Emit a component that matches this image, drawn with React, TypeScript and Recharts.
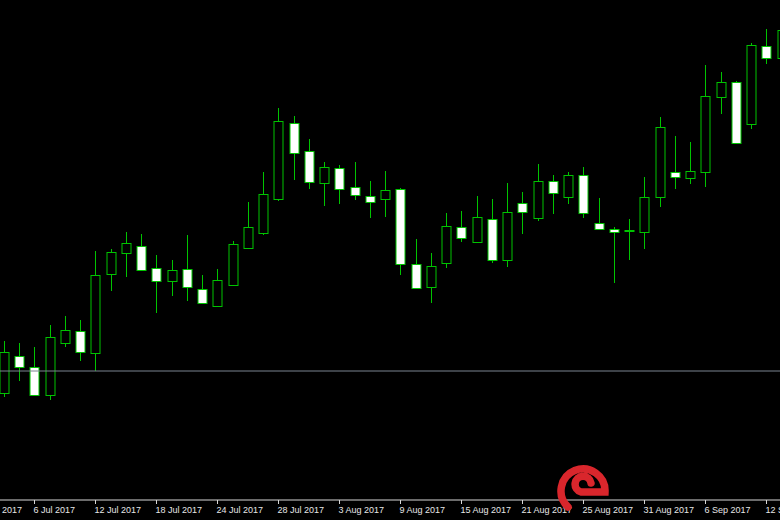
import { Bar, ComposedChart, ReferenceLine, XAxis, YAxis } from "recharts";

// daily bars, 4 Jul 2017 .. 13 Sep 2017
const barDates = [
  "4 Jul", "5 Jul", "6 Jul", "7 Jul", "10 Jul", "11 Jul", "12 Jul", "13 Jul", "14 Jul",
  "17 Jul", "18 Jul", "19 Jul", "20 Jul", "21 Jul", "24 Jul", "25 Jul", "26 Jul", "27 Jul",
  "28 Jul", "31 Jul", "1 Aug", "2 Aug", "3 Aug", "4 Aug", "7 Aug", "8 Aug", "9 Aug",
  "10 Aug", "11 Aug", "14 Aug", "15 Aug", "16 Aug", "17 Aug", "18 Aug", "21 Aug", "22 Aug",
  "23 Aug", "24 Aug", "25 Aug", "28 Aug", "29 Aug", "30 Aug", "31 Aug", "1 Sep", "4 Sep",
  "5 Sep", "6 Sep", "7 Sep", "8 Sep", "11 Sep", "12 Sep", "13 Sep",
];

const opens = [
  1.1314, 1.1388, 1.1366, 1.131, 1.1414, 1.1438, 1.1394, 1.1552, 1.1594, 1.1608, 1.1564,
  1.1538, 1.1562, 1.1522, 1.1488, 1.153, 1.1604, 1.1634, 1.1702, 1.1854, 1.1798, 1.1734,
  1.1764, 1.1726, 1.1708, 1.1702, 1.1722, 1.1572, 1.1526, 1.1574, 1.1646, 1.1616, 1.1662,
  1.158, 1.1694, 1.1664, 1.1738, 1.1706, 1.175, 1.1654, 1.1642, 1.1638, 1.1636, 1.1706,
  1.1756, 1.1744, 1.1756, 1.1906, 1.1936, 1.1852, 1.2008, 1.1984,
];
const highs = [
  1.1418, 1.1414, 1.1406, 1.145, 1.1468, 1.146, 1.1598, 1.1602, 1.1636, 1.1632, 1.159,
  1.158, 1.163, 1.155, 1.1562, 1.1618, 1.1696, 1.1756, 1.1884, 1.1868, 1.1822, 1.1776,
  1.177, 1.1776, 1.1738, 1.1758, 1.1724, 1.1622, 1.1594, 1.1674, 1.1678, 1.1708, 1.1702,
  1.1734, 1.1716, 1.1772, 1.175, 1.1756, 1.1766, 1.1704, 1.1646, 1.1662, 1.1746, 1.1866,
  1.1828, 1.1816, 1.197, 1.1956, 1.1938, 1.2014, 1.2042, 1.206,
];
const lows = [
  1.1306, 1.1338, 1.1308, 1.13, 1.1406, 1.1378, 1.1358, 1.1518, 1.1546, 1.1558, 1.1474,
  1.1508, 1.1498, 1.1492, 1.1486, 1.1528, 1.1602, 1.163, 1.1698, 1.174, 1.1722, 1.1688,
  1.1692, 1.17, 1.1664, 1.1666, 1.155, 1.1522, 1.1494, 1.1564, 1.1616, 1.1614, 1.1574,
  1.1566, 1.1632, 1.1658, 1.1672, 1.1692, 1.1664, 1.164, 1.1534, 1.158, 1.1602, 1.1686,
  1.1722, 1.1732, 1.1726, 1.1872, 1.1812, 1.1842, 1.1972, 1.198,
];
const closes = [
  1.1396, 1.1366, 1.131, 1.1426, 1.144, 1.1396, 1.155, 1.1596, 1.1614, 1.156, 1.1538,
  1.156, 1.1526, 1.1494, 1.154, 1.1612, 1.1646, 1.1712, 1.1858, 1.1794, 1.1736, 1.1766,
  1.1722, 1.171, 1.1696, 1.172, 1.1572, 1.1524, 1.1568, 1.1648, 1.1624, 1.1666, 1.158,
  1.1676, 1.1676, 1.1738, 1.1714, 1.175, 1.1674, 1.1642, 1.1636, 1.164, 1.1706, 1.1846,
  1.1746, 1.1758, 1.1908, 1.1936, 1.1814, 1.201, 1.1984, 1.204,
];

// bar index of each time-scale label (every 4th bar)
const tickBars = [-2, 2, 6, 10, 14, 18, 22, 26, 30, 34, 38, 42, 46, 50];
const tickLabels = [
  "30 Jun 2017", "6 Jul 2017", "12 Jul 2017", "18 Jul 2017", "24 Jul 2017", "28 Jul 2017",
  "3 Aug 2017", "9 Aug 2017", "15 Aug 2017", "21 Aug 2017", "25 Aug 2017", "31 Aug 2017",
  "6 Sep 2017", "12 Sep 2017",
];

const levelLine = 1.1358;

const data = barDates.map((date, i) => ({
  i,
  date,
  open: opens[i],
  high: highs[i],
  low: lows[i],
  close: closes[i],
}));

const GREEN = "#00c400";
const STEP = 15.25;
const SHIFT = 60; // chart is pushed left so the first label gets cut off like the original
const FIRST_X = 64;
const CHART_W = 880;

function Candle(props: any) {
  const { x, y, width, height, payload } = props;
  if (payload == null) return null;
  const { open, high, low, close } = payload;
  const top = Math.min(y, y + height);
  const span = Math.abs(height);
  const k = span / (high - low || 1);
  const py = (v: number) => top + (high - v) * k;
  const cx = Math.round(x + width / 2) + 0.5;
  const bull = close >= open;
  const bTop = Math.round(py(Math.max(open, close))) + 0.5;
  const bBot = Math.round(py(Math.min(open, close))) + 0.5;
  return (
    <g>
      <line x1={cx} x2={cx} y1={Math.round(py(high))} y2={Math.round(py(low))} stroke={GREEN} strokeWidth={1} />
      <rect
        x={cx - 4.5}
        y={bTop}
        width={9}
        height={Math.max(bBot - bTop, 0.5)}
        fill={bull ? "#000000" : "#ffffff"}
        stroke={GREEN}
        strokeWidth={1}
      />
    </g>
  );
}

function DateTick(props: any) {
  const { x, y, payload } = props;
  const idx = tickBars.indexOf(payload.value);
  return (
    <text x={x - 1} y={y + 7} textAnchor="start" fill="#e6e6e6" fontSize={9} fontFamily="'Liberation Sans', Arial, sans-serif">
      {tickLabels[idx]}
    </text>
  );
}

export default function App() {
  return (
    <div style={{ position: "fixed", left: 0, top: 0, width: 780, height: 520, background: "#000", overflow: "hidden" }}>
      <div style={{ position: "absolute", left: -SHIFT, top: 0 }}>
        <ComposedChart width={CHART_W} height={520} data={data} margin={{ top: 0, right: 0, bottom: 0, left: 0 }}>
          <XAxis
            type="number"
            dataKey="i"
            domain={[-FIRST_X / STEP, (CHART_W - FIRST_X) / STEP]}
            allowDataOverflow
            ticks={tickBars}
            interval={0}
            height={20}
            axisLine={{ stroke: "#d8d8d8" }}
            tickLine={{ stroke: "#d8d8d8" }}
            tickSize={4}
            tick={<DateTick />}
          />
          <YAxis hide domain={[1.11, 1.21]} allowDataOverflow />
          <ReferenceLine y={levelLine} stroke="#7a8490" strokeWidth={1} />
          <Bar
            dataKey={(d: any) => [d.low, d.high]}
            barSize={9}
            shape={<Candle />}
            isAnimationActive={false}
          />
        </ComposedChart>
      </div>
      <svg width={780} height={520} style={{ position: "absolute", left: 0, top: 0, pointerEvents: "none" }}>
        <path
          d="M 568 507 A 22 22 0 1 1 605 492 L 581 492 A 8 8 0 1 1 591 483"
          fill="none"
          stroke="#d9262c"
          strokeWidth={7.5}
          strokeLinecap="round"
        />
      </svg>
    </div>
  );
}
